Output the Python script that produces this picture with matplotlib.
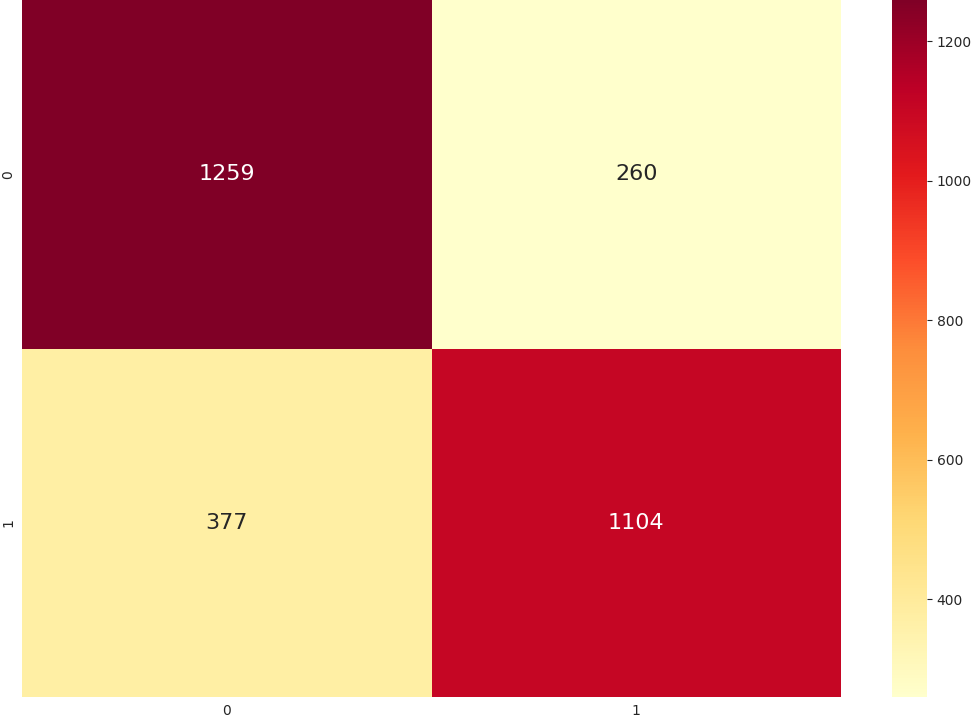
import matplotlib
matplotlib.use("Agg")
import matplotlib.pyplot as plt
import seaborn as sns
import numpy as np

row_labels = ["0", "1"]
col_labels = ["0", "1"]
values = [[1259, 260],
          [377, 1104]]

fig = plt.figure(figsize=(9.71, 7.17), dpi=100)
ax = fig.add_axes([22/971, 20/717, 819/971, 697/717])
cax = fig.add_axes([892/971, 20/717, 35/971, 697/717])

sns.heatmap(np.array(values), annot=True, fmt="d", cmap="YlOrRd",
            xticklabels=col_labels, yticklabels=row_labels,
            ax=ax, cbar_ax=cax, annot_kws={"fontsize": 16})
ax.tick_params(labelsize=10, length=0, pad=5, colors="#262626")
cax.tick_params(labelsize=10, length=3.5, colors="#262626")
fig.savefig("out.png", dpi=100)
